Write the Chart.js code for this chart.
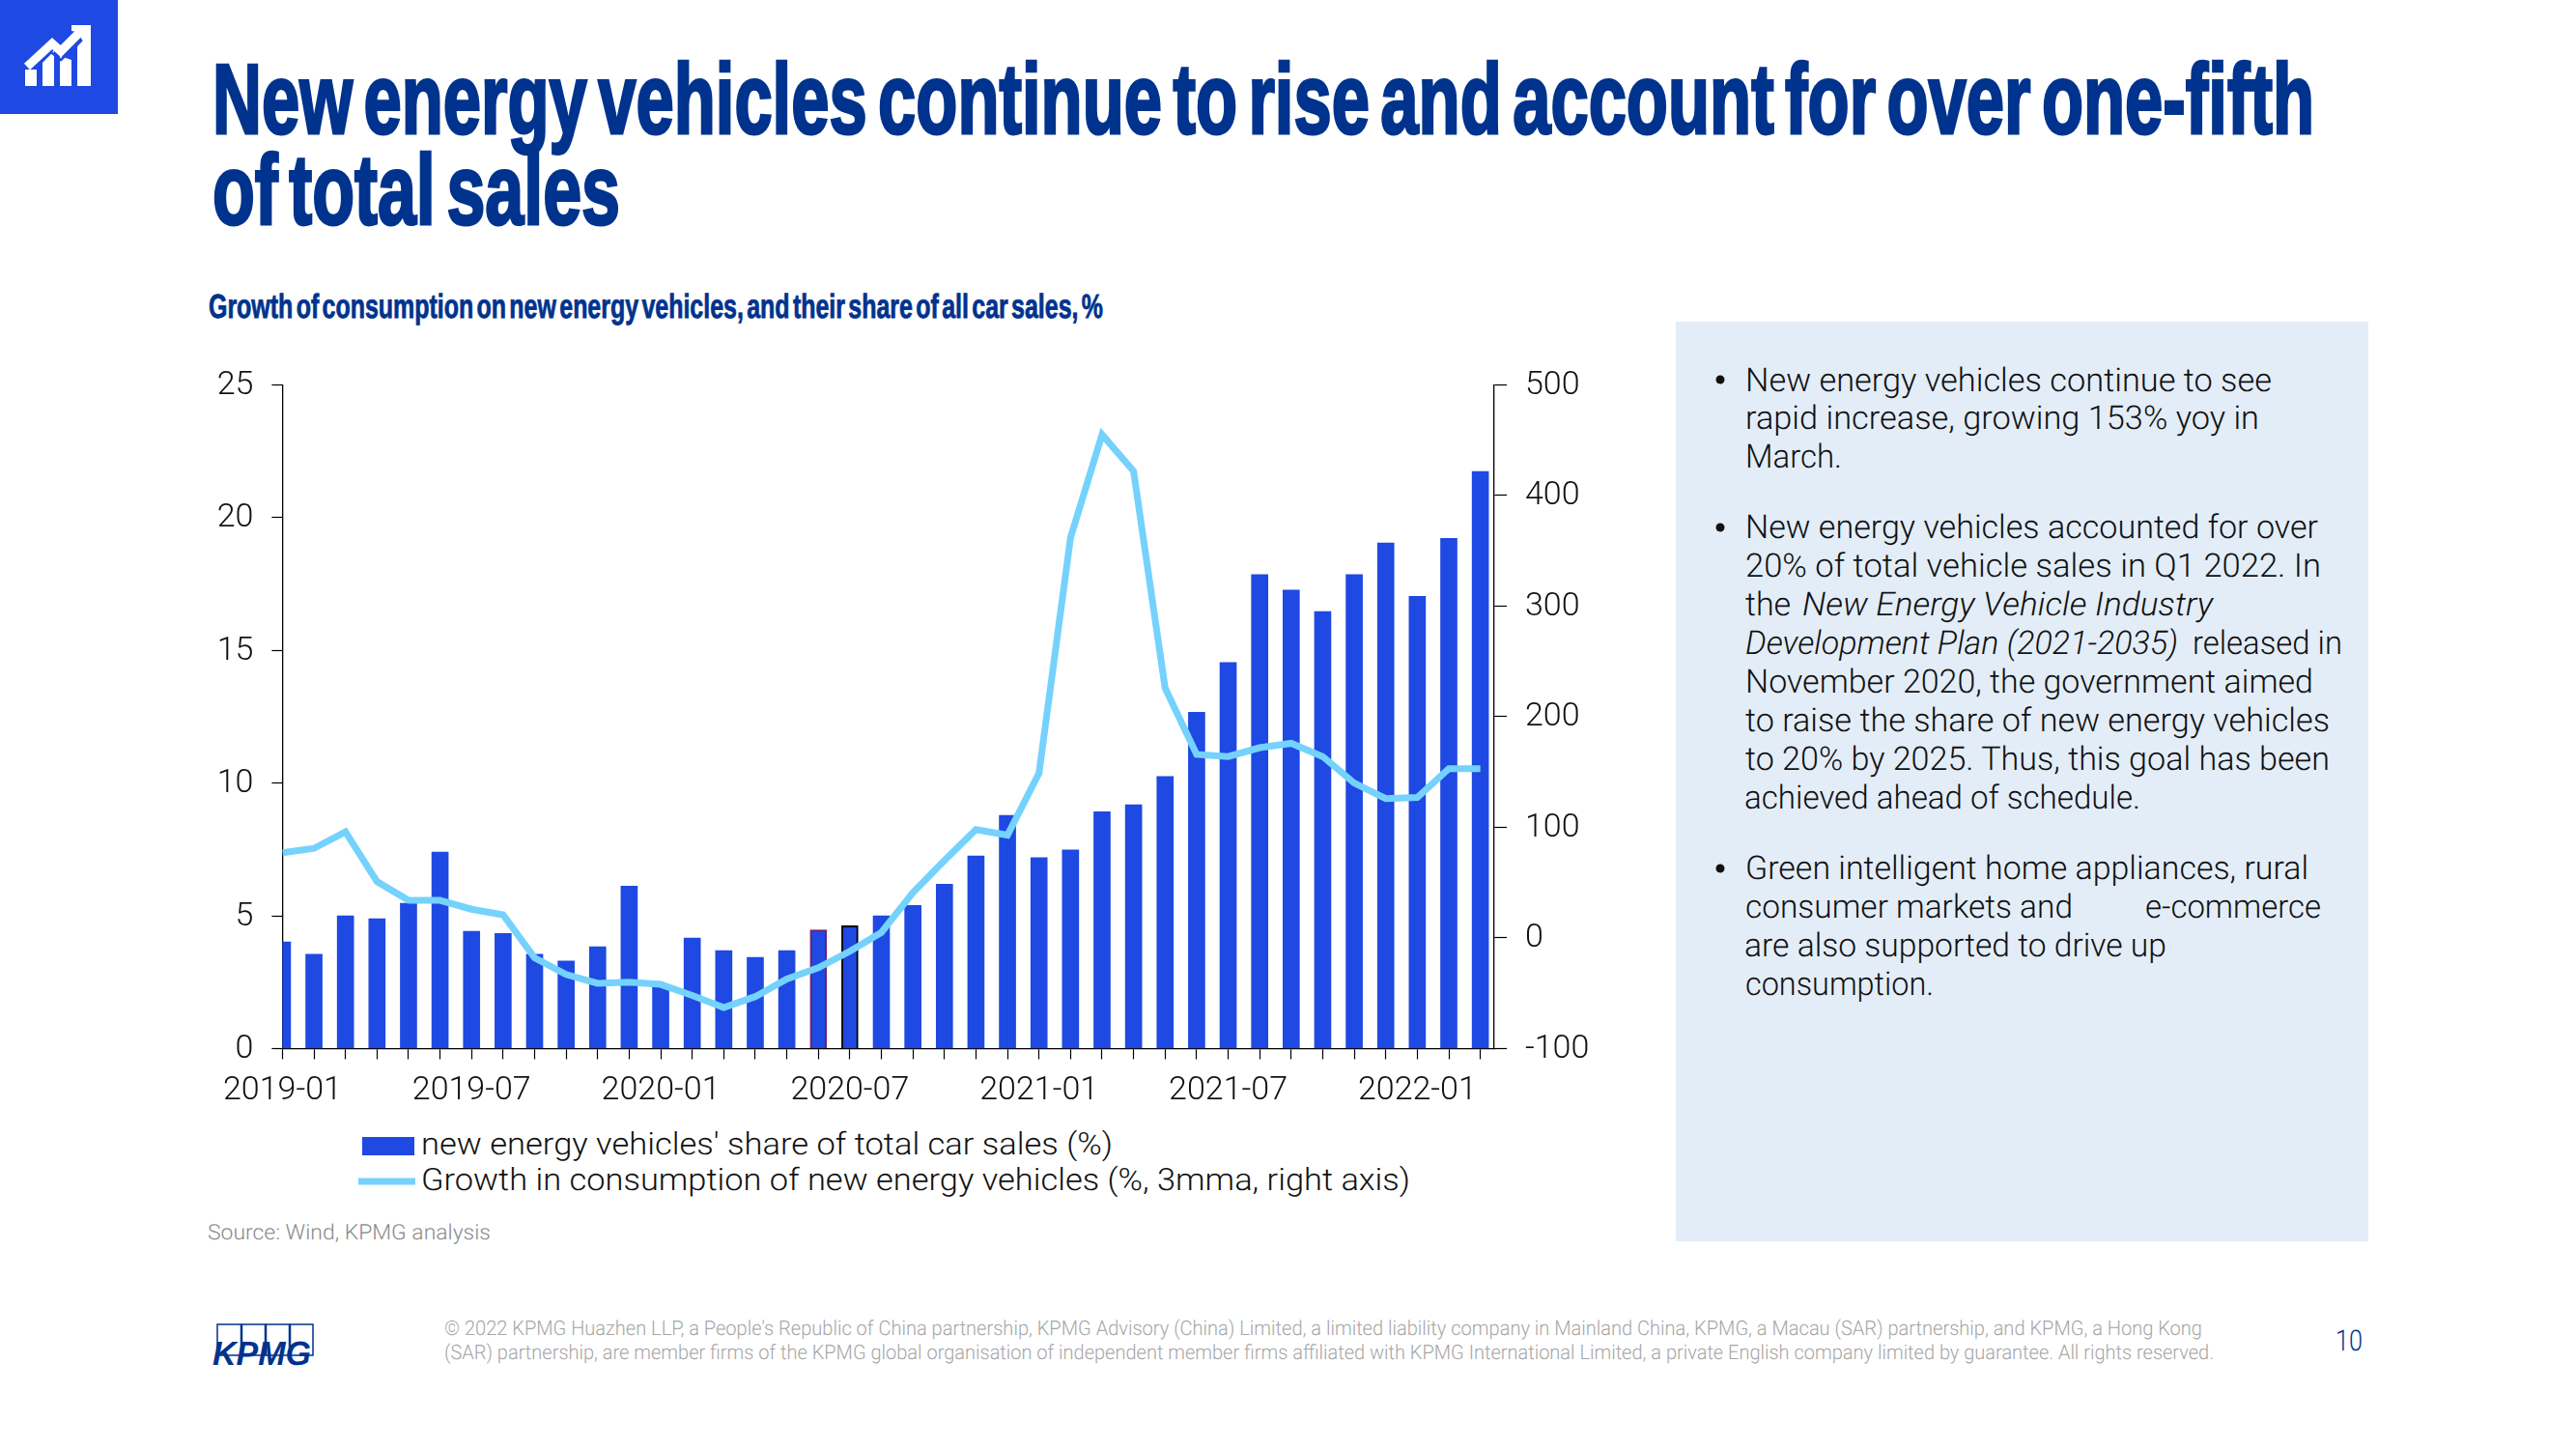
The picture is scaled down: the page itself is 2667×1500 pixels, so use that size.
<!DOCTYPE html>
<html>
<head>
<meta charset="utf-8">
<title>New energy vehicles</title>
<script src="https://cdn.jsdelivr.net/npm/chart.js@4"></script>
<style>
html, body { margin: 0; padding: 0; background: #fff; }
#page { position: relative; width: 2667px; height: 1500px; overflow: hidden; }
#page svg, #page canvas { position: absolute; left: 0; top: 0; }
text { text-rendering: geometricPrecision; }
.title { font: bold 103px "Liberation Sans"; fill: #00338D; stroke: #00338D; stroke-width: 3px; word-spacing: -12px; }
.sub { font: bold 35px "Liberation Sans"; fill: #00338D; stroke: #00338D; stroke-width: 0.8px; word-spacing: -5px; }
.body { font: 300 34px Roboto; fill: #111; }
.legend { font: 300 32px Roboto; fill: #111; }
.source { font: 300 22px Roboto; fill: #8a8a8a; }
.foot { font: 300 21px Roboto; fill: #a6a6a6; }
.pageno { font: 300 30px Roboto; fill: #00338D; }
.kpmg { font: italic bold 35px "Liberation Sans"; fill: #00338D; }
.ital { font-style: italic; }
</style>
</head>
<body>
<div id="page">
<svg width="2667" height="1500" xmlns="http://www.w3.org/2000/svg">
  <!-- header icon -->
  <rect x="0" y="0" width="122" height="118" fill="#1E49E2"/>
  <g fill="#fff">
    <rect x="26" y="72" width="12" height="17"/>
    <polygon points="44,62 56,52 56,89 44,89"/>
    <polygon points="62,58 74,62 74,89 62,89"/>
    <polygon points="80,48 94,34 94,89 80,89"/>
  </g>
  <polyline points="37,70 53,54 63,62 80,46" fill="none" stroke="#1E49E2" stroke-width="2.5"/>
  <polyline points="28,69 54,45 63,53 86,30" fill="none" stroke="#fff" stroke-width="9"/>
  <polygon points="74,26 94,26 94,46 88,46 80,33 74,32" fill="#fff"/>

  <text class="title" x="220" y="138" textLength="2176" lengthAdjust="spacingAndGlyphs">New energy vehicles continue to rise and account for over one-fifth</text>
  <text class="title" x="220" y="232" textLength="422" lengthAdjust="spacingAndGlyphs">of total sales</text>
  <text class="sub" x="216" y="329" textLength="926" lengthAdjust="spacingAndGlyphs">Growth of consumption on new energy vehicles, and their share of all car sales, %</text>

  <!-- commentary panel -->
  <rect x="1735" y="333" width="717" height="952" fill="#E3EDF8"/>
  <circle cx="1781" cy="393" r="4.5" fill="#111"/>
  <circle cx="1781" cy="546" r="4.5" fill="#111"/>
  <circle cx="1781" cy="899" r="4.5" fill="#111"/>
  <text class="body" x="1807" y="405" textLength="545" lengthAdjust="spacingAndGlyphs">New energy vehicles continue to see</text>
  <text class="body" x="1807" y="444" textLength="532" lengthAdjust="spacingAndGlyphs">rapid increase, growing 153% yoy in</text>
  <text class="body" x="1807" y="484" textLength="100" lengthAdjust="spacingAndGlyphs">March.</text>
  <text class="body" x="1807" y="557" textLength="593" lengthAdjust="spacingAndGlyphs">New energy vehicles accounted for over</text>
  <text class="body" x="1807" y="597" textLength="596" lengthAdjust="spacingAndGlyphs">20% of total vehicle sales in Q1 2022. In</text>
  <text class="body" x="1807" y="637">the</text>
  <text class="body ital" x="1866" y="637" textLength="425" lengthAdjust="spacingAndGlyphs">New Energy Vehicle Industry</text>
  <text class="body ital" x="1807" y="677" textLength="448" lengthAdjust="spacingAndGlyphs">Development Plan (2021-2035)</text>
  <text class="body" x="2270" y="677" textLength="155" lengthAdjust="spacingAndGlyphs">released in</text>
  <text class="body" x="1807" y="717" textLength="588" lengthAdjust="spacingAndGlyphs">November 2020, the government aimed</text>
  <text class="body" x="1807" y="757" textLength="605" lengthAdjust="spacingAndGlyphs">to raise the share of new energy vehicles</text>
  <text class="body" x="1807" y="797" textLength="605" lengthAdjust="spacingAndGlyphs">to 20% by 2025. Thus, this goal has been</text>
  <text class="body" x="1806" y="837" textLength="410" lengthAdjust="spacingAndGlyphs">achieved ahead of schedule.</text>
  <text class="body" x="1807" y="910" textLength="583" lengthAdjust="spacingAndGlyphs">Green intelligent home appliances, rural</text>
  <text class="body" x="1807" y="950" textLength="339" lengthAdjust="spacingAndGlyphs">consumer markets and</text>
  <text class="body" x="2221" y="950" textLength="182" lengthAdjust="spacingAndGlyphs">e-commerce</text>
  <text class="body" x="1806" y="990" textLength="437" lengthAdjust="spacingAndGlyphs">are also supported to drive up</text>
  <text class="body" x="1807" y="1030" textLength="195" lengthAdjust="spacingAndGlyphs">consumption.</text>

  <!-- legend -->
  <rect x="375" y="1177" width="54" height="19" fill="#1E49E2"/>
  <line x1="371" y1="1223" x2="430" y2="1223" stroke="#74D2FC" stroke-width="7"/>
  <text id="legendShare" class="legend" x="436" y="1195" textLength="716" lengthAdjust="spacingAndGlyphs"></text>
  <text id="legendGrowth" class="legend" x="436" y="1232" textLength="1024" lengthAdjust="spacingAndGlyphs"></text>

  <text class="source" x="215" y="1283" textLength="293" lengthAdjust="spacingAndGlyphs">Source: Wind, KPMG analysis</text>

  <!-- footer -->
  <g fill="none" stroke="#00338D" stroke-width="1.5">
    <rect x="225" y="1371" width="24.5" height="32"/>
    <rect x="250.5" y="1371" width="24" height="32"/>
    <rect x="275.5" y="1371" width="24" height="32"/>
    <rect x="300.5" y="1371" width="23.5" height="32"/>
  </g>
  <text class="kpmg" x="220" y="1413" textLength="102" lengthAdjust="spacingAndGlyphs">KPMG</text>
  <text class="foot" x="460" y="1382" textLength="1820" lengthAdjust="spacingAndGlyphs">© 2022 KPMG Huazhen LLP, a People's Republic of China partnership, KPMG Advisory (China) Limited, a limited liability company in Mainland China, KPMG, a Macau (SAR) partnership, and KPMG, a Hong Kong</text>
  <text class="foot" x="460" y="1407" textLength="1832" lengthAdjust="spacingAndGlyphs">(SAR) partnership, are member firms of the KPMG global organisation of independent member firms affiliated with KPMG International Limited, a private English company limited by guarantee. All rights reserved.</text>
  <text class="pageno" x="2418" y="1398" textLength="28" lengthAdjust="spacingAndGlyphs">10</text>
</svg>
<canvas id="chart" width="2667" height="1500"></canvas>
</div>

<script>
const categories = [
    '2019-01', '2019-02', '2019-03', '2019-04', '2019-05', '2019-06', '2019-07', '2019-08', '2019-09', '2019-10', '2019-11', '2019-12',
    '2020-01', '2020-02', '2020-03', '2020-04', '2020-05', '2020-06', '2020-07', '2020-08', '2020-09', '2020-10', '2020-11', '2020-12',
    '2021-01', '2021-02', '2021-03', '2021-04', '2021-05', '2021-06', '2021-07', '2021-08', '2021-09', '2021-10', '2021-11', '2021-12',
    '2022-01', '2022-02', '2022-03'
];
const shareOfSales = [
    4.02, 3.55, 5.0, 4.89, 5.47, 7.4, 4.42, 4.34, 3.55, 3.3, 3.84, 6.12,
    2.4, 4.16, 3.69, 3.44, 3.69, 4.47, 4.63, 5.0, 5.39, 6.19, 7.26, 8.78,
    7.19, 7.48, 8.92, 9.18, 10.25, 12.67, 14.54, 17.85, 17.27, 16.46, 17.85, 19.04,
    17.03, 19.22, 21.74
];
const consumptionGrowth = [
    77, 81, 96, 51, 34, 34, 26, 21, -18, -33, -41, -40,
    -42, -52, -63, -53, -37, -27, -12, 5, 41, 70, 98, 93,
    149, 362, 455, 422, 226, 166, 164, 172, 176, 164, 140, 126,
    127, 153, 153
];
const shareName = "new energy vehicles' share of total car sales (%)";
const growthName = 'Growth in consumption of new energy vehicles (%, 3mma, right axis)';

document.getElementById('legendShare').textContent = shareName;
document.getElementById('legendGrowth').textContent = growthName;

const tickFont = { family: 'Roboto', size: 34, weight: '300' };
const inkColor = '#111';

// the bars of 2020-06 and 2020-07 carry an outline in the source
function outlineColor(ctx) {
    if (ctx.dataIndex === 17) return '#6D2077';
    if (ctx.dataIndex === 18) return '#000';
    return '#1E49E2';
}

new Chart(document.getElementById('chart').getContext('2d'), {
    type: 'bar',
    data: {
        datasets: [{
            type: 'line',
            label: growthName,
            data: consumptionGrowth.map((v, i) => ({ x: i, y: v })),
            yAxisID: 'yRight',
            borderColor: '#74D2FC',
            borderWidth: 7,
            borderJoinStyle: 'miter',
            pointRadius: 0,
            tension: 0,
            order: 1
        }, {
            label: shareName,
            data: shareOfSales.map((v, i) => ({ x: i, y: v })),
            yAxisID: 'yLeft',
            backgroundColor: '#1E49E2',
            borderColor: outlineColor,
            borderWidth: ctx => (ctx.dataIndex === 17 || ctx.dataIndex === 18) ? 2 : 0,
            barThickness: 17,
            order: 2
        }]
    },
    options: {
        responsive: false,
        devicePixelRatio: 1,
        animation: false,
        layout: { padding: { left: 200, top: 398.4, right: 1000, bottom: 354.5 } },
        plugins: { legend: { display: false }, tooltip: { enabled: false } },
        scales: {
            x: {
                type: 'linear',
                offset: false,
                min: 0,
                max: 38.44,
                afterBuildTicks: scale => { scale.ticks = categories.map((c, i) => ({ value: i })); },
                afterFit: scale => { scale.height = 60; },
                border: { color: '#000', width: 1.3 },
                grid: { offset: false, drawOnChartArea: false, color: '#000', tickLength: 11, tickWidth: 1.2 },
                ticks: {
                    autoSkip: false,
                    maxRotation: 0,
                    minRotation: 0,
                    padding: 13,
                    color: inkColor,
                    font: tickFont,
                    callback: v => (v % 6 === 0 ? categories[v] : '')
                }
            },
            yLeft: {
                position: 'left',
                min: 0,
                max: 25,
                afterFit: scale => { scale.width = 92.4; },
                border: { color: '#000', width: 1.3 },
                grid: { drawOnChartArea: false, color: '#000', tickLength: 11, tickWidth: 1.2 },
                ticks: { stepSize: 5, padding: 19, labelOffset: 1, color: inkColor, font: tickFont }
            },
            yRight: {
                position: 'right',
                min: -100,
                max: 500,
                afterFit: scale => { scale.width = 120; },
                border: { color: '#000', width: 1.3 },
                grid: { drawOnChartArea: false, color: '#000', tickLength: 13, tickWidth: 1.2 },
                ticks: { stepSize: 100, padding: 19, labelOffset: 1, color: inkColor, font: tickFont }
            }
        }
    }
});
</script>
</body>
</html>
